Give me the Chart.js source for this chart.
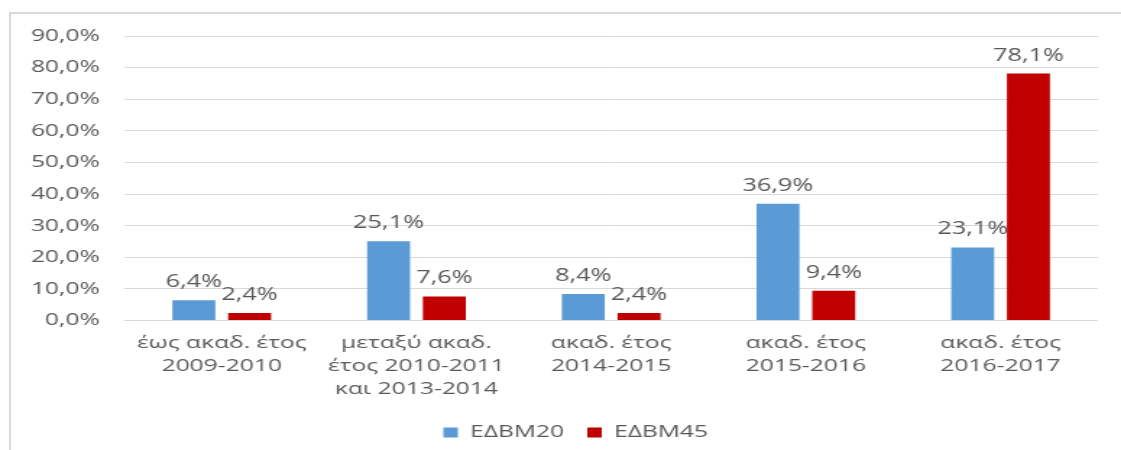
<!DOCTYPE html>
<html lang="el">
<head>
<meta charset="utf-8">
<title>ΕΔΒΜ20 / ΕΔΒΜ45</title>
<script src="https://cdn.jsdelivr.net/npm/chart.js@4.4.1/dist/chart.umd.min.js"></script>
<style>
    html, body { margin: 0; padding: 0; background: #fff; overflow: hidden; width: 1121px; height: 450px; }
    .cadre {
        position: absolute; left: 9px; top: 12px; right: -10px; bottom: -10px;
        border-left: 2px solid #d9d9d9; border-top: 2px solid #d9d9d9;
    }
    #graphique {
        position: absolute; left: 0; top: 0;
        transform-origin: 0 0; transform: scaleX(1.4465);
    }
</style>
</head>
<body>
<div class="cadre"></div>
<canvas id="graphique" width="775" height="450"></canvas>
<script>
// Données du graphique
const categories = [
    ['έως ακαδ. έτος', '2009-2010'],
    ['μεταξύ ακαδ.', 'έτος 2010-2011', 'και 2013-2014'],
    ['ακαδ. έτος', '2014-2015'],
    ['ακαδ. έτος', '2015-2016'],
    ['ακαδ. έτος', '2016-2017']
];
const edbm20 = [6.4, 25.1, 8.4, 36.9, 23.1];
const edbm45 = [2.4, 7.6, 2.4, 9.4, 78.1];
const yTickLabels = ['0,0%', '10,0%', '20,0%', '30,0%', '40,0%', '50,0%', '60,0%', '70,0%', '80,0%', '90,0%'];

const texte = '#595959';
Chart.defaults.font.family = "'Open Sans', sans-serif";
Chart.defaults.color = texte;

function pourcent(v) {
    return v.toFixed(1).replace('.', ',') + '%';
}

// Étiquettes au-dessus des barres
const etiquettes = {
    id: 'etiquettes',
    afterDatasetsDraw(chart) {
        const ctx = chart.ctx;
        ctx.save();
        ctx.font = "17.5px 'Open Sans', sans-serif";
        ctx.fillStyle = texte;
        ctx.textAlign = 'center';
        ctx.textBaseline = 'alphabetic';
        chart.data.datasets.forEach((ds, i) => {
            chart.getDatasetMeta(i).data.forEach((bar, j) => {
                ctx.fillText(pourcent(ds.data[j]), bar.x, bar.y - 13);
            });
        });
        ctx.restore();
    }
};

// Légende un peu décalée vers la droite, comme dans Excel
const decalageLegende = {
    id: 'decalageLegende',
    afterLayout(chart) {
        chart.legend.left += 14.5;
        chart.legend.right += 14.5;
    }
};

const graphique = new Chart(document.getElementById('graphique'), {
    type: 'bar',
    data: {
        labels: categories,
        datasets: [
            { label: 'ΕΔΒΜ20', data: edbm20, backgroundColor: '#5b9bd5' },
            { label: 'ΕΔΒΜ45', data: edbm45, backgroundColor: '#c00000' }
        ]
    },
    options: {
        responsive: false,
        animation: false,
        events: [],
        categoryPercentage: 0.573,
        barPercentage: 0.77,
        layout: { padding: { left: 8, right: 16, top: 36, bottom: -1 } },
        scales: {
            x: {
                grid: { display: false, drawTicks: false },
                border: { display: false },
                ticks: { font: { size: 17, lineHeight: 1.35 }, padding: 11, maxRotation: 0, autoSkip: false },
                afterFit: (scale) => { scale.height = 87.5; }
            },
            y: {
                min: 0,
                max: 90,
                grid: { color: '#d9d9d9', lineWidth: 1, drawTicks: false },
                border: { display: false },
                ticks: {
                    stepSize: 10,
                    padding: 17,
                    font: { size: 17 },
                    callback: (v, i) => yTickLabels[i]
                },
                afterFit: (scale) => { scale.width = 78; }
            }
        },
        plugins: {
            legend: {
                position: 'bottom',
                labels: { boxWidth: 10, boxHeight: 10, padding: 16, font: { size: 17 } }
            },
            tooltip: { enabled: false }
        }
    },
    plugins: [etiquettes, decalageLegende]
});
</script>
</body>
</html>
